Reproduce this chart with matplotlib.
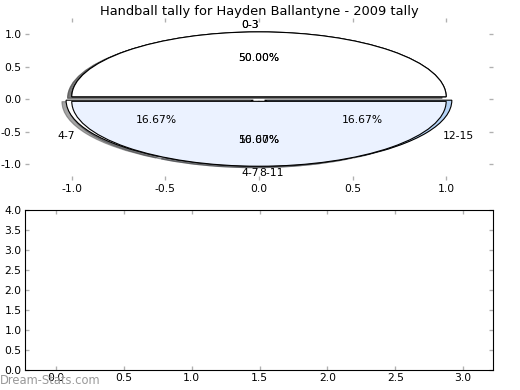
import numpy as np
import matplotlib
matplotlib.use("Agg")
import matplotlib.pyplot as plt

title = "Handball tally for Hayden Ballantyne - 2009 tally"

# four-bucket pie
labels_b = ["0-3", "4-7", "8-11", "12-15"]
values_b = [3, 1, 1, 1]
colors_b = ["#ffffff", "#ffffff", "#ebf2ff", "#b4d2f5"]

# two-bucket pie drawn on top
labels_a = ["0-3", "4-7"]
values_a = [3, 3]
colors_a = ["#ffffff", "#ebf2ff"]

# empty lower panel
bar_x = [0, 1, 2, 3]
bar_h = [0, 0, 0, 0]

expl = 0.035
tick_col = "#b0b0b0"
fs = 9.7

fig = plt.figure(figsize=(6.5, 4.875), dpi=80)
ax1 = fig.add_axes([0.048, 0.538, 0.9, 0.416])
ax2 = fig.add_axes([0.048, 0.051, 0.9, 0.410])

wb, tb, pb = ax1.pie(values_b, labels=labels_b, colors=colors_b,
                     explode=[expl] * len(values_b),
                     autopct="%.2f%%", shadow=True, startangle=0,
                     wedgeprops={"linewidth": 1, "edgecolor": "black"},
                     textprops={"fontsize": fs})
tb[2].set_ha("left")
wa, ta, pa = ax1.pie(values_a, labels=labels_a, colors=colors_a,
                     explode=[expl] * len(values_a),
                     autopct="%.2f%%", shadow=True, startangle=0,
                     wedgeprops={"linewidth": 1, "edgecolor": "black"},
                     textprops={"fontsize": fs})
ta[1].set_ha("right")
ax1.set_aspect("auto")
ax1.set_frame_on(False)
ax1.set_xlim(-1.25, 1.25)
ax1.set_ylim(-1.25, 1.25)
ax1.set_xticks([-1.0, -0.5, 0.0, 0.5, 1.0])
ax1.set_yticks([-1.0, -0.5, 0.0, 0.5, 1.0])
ax1.set_title(title, fontsize=11.7, pad=3)

ax2.bar(bar_x, bar_h, width=0.45, color="#b4d2f5")
ax2.set_xlim(-0.23, 3.22)
ax2.set_ylim(0, 4)
ax2.set_xticks(np.arange(0, 3.01, 0.5))
ax2.set_yticks(np.arange(0, 4.01, 0.5))

for ax in (ax1, ax2):
    ax.xaxis.set_major_formatter(matplotlib.ticker.FormatStrFormatter("%.1f"))
    ax.yaxis.set_major_formatter(matplotlib.ticker.FormatStrFormatter("%.1f"))
    ax.tick_params(direction="in", length=4, width=1.2, color=tick_col,
                   top=True, right=True, labelsize=fs, pad=3)
for s in ax2.spines.values():
    s.set_linewidth(1)

fig.text(0.0, 0.008, "Dream-Stats.com", fontsize=10.4, color="#999999",
         ha="left", va="bottom")

fig.savefig("out.png", dpi=80)
